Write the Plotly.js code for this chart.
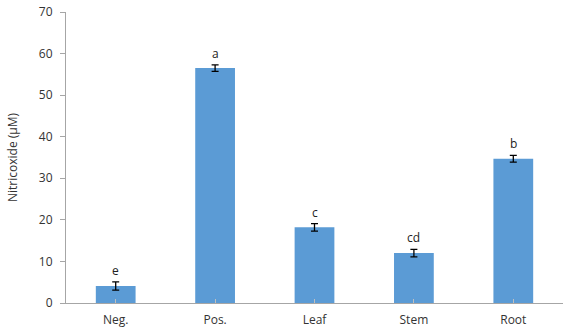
<!DOCTYPE html>
<html>
<head>
<meta charset="utf-8">
<script src="https://cdn.plot.ly/plotly-3.0.1.min.js"></script>
<style>html,body{margin:0;padding:0;background:#fff;}#chart{width:563px;height:329px;}</style>
</head>
<body>
<div id="chart"></div>
<script>
var categories = ["Neg.", "Pos.", "Leaf", "Stem", "Root"];
var values = [4.1, 56.5, 18.2, 12.0, 34.7];
var errors = [1.0, 0.8, 0.9, 0.9, 0.8];
var letters = ["e", "a", "c", "cd", "b"];
var yTicks = [0, 10, 20, 30, 40, 50, 60, 70];

var trace = {
  type: "bar",
  x: categories,
  y: values,
  width: 0.4,
  marker: {color: "#5B9BD5"},
  error_y: {type: "data", array: errors, visible: true, color: "#000000", thickness: 1.3, width: 3.5}
};

var annotations = categories.map(function(c, i) {
  return {
    x: c, y: values[i] + errors[i], xref: "x", yref: "y",
    text: letters[i], showarrow: false, yanchor: "bottom", yshift: 1,
    font: {family: "Open Sans, Liberation Sans, sans-serif", size: 12, color: "#222"}
  };
});

var layout = {
  width: 563, height: 329,
  margin: {l: 66, r: 0, t: 12, b: 26},
  paper_bgcolor: "#fff", plot_bgcolor: "#fff",
  showlegend: false,
  font: {family: "Open Sans, Liberation Sans, sans-serif", size: 12, color: "#333"},
  xaxis: {
    type: "category",
    showline: true, linecolor: "#A6A6A6", linewidth: 1,
    ticks: "inside", ticklen: 4, tickcolor: "#BFBFBF",
    showgrid: false, zeroline: false,
    ticklabelstandoff: 6,
    tickfont: {size: 12, color: "#333"}
  },
  yaxis: {
    range: [0, 70], tickvals: yTicks, ticktext: yTicks.map(String),
    showline: true, linecolor: "#A6A6A6", linewidth: 1,
    ticks: "outside", ticklen: 5, tickcolor: "#A6A6A6",
    showgrid: false, zeroline: false,
    ticklabelstandoff: 5,
    tickfont: {size: 12, color: "#333"},
    title: {text: "Nitricoxide (μM)", font: {size: 12, color: "#333"}, standoff: 18}
  },
  annotations: annotations
};

Plotly.newPlot("chart", [trace], layout, {displayModeBar: false, staticPlot: true});
</script>
</body>
</html>
